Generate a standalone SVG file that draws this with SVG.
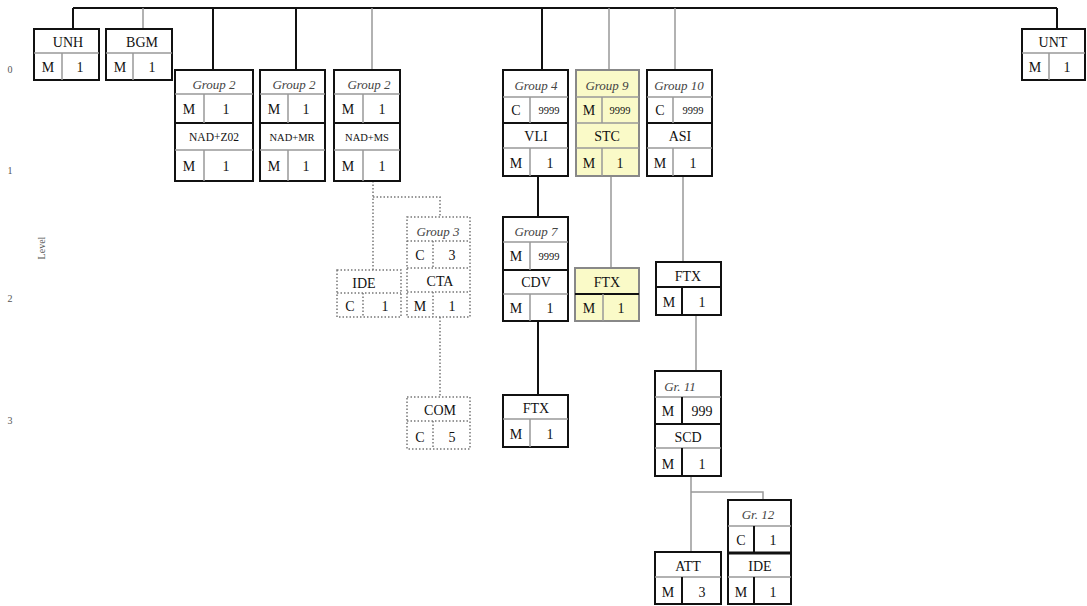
<svg xmlns="http://www.w3.org/2000/svg" width="1087" height="606" viewBox="0 0 1087 606">
<style>
.b{fill:#fff;stroke:#111;stroke-width:2}
.y{fill:#fafac8;stroke:#888;stroke-width:2}
.d{fill:#fff;stroke:#777;stroke-width:1.5;stroke-dasharray:1.5 2}
.g{stroke:#999;stroke-width:1.5}
.k{stroke:#111;stroke-width:2}
.dl{stroke:#777;stroke-width:1.5;stroke-dasharray:1.5 2;fill:none}
text{font-family:"Liberation Serif","Times New Roman",serif;font-size:14px;fill:#111;text-anchor:middle}
.i{font-style:italic;font-size:13px;fill:#444}
.s{font-size:11.5px}
.xs{font-size:10.5px}
.n{font-size:10.5px}
.lv{font-size:10px;fill:#555}
.c line{fill:none}
</style>
<g id="connectors" class="c">
<line x1="73" y1="8" x2="1057" y2="8" class="k"/>
<line x1="73" y1="8" x2="73" y2="29" class="k"/>
<line x1="143" y1="8" x2="143" y2="29" class="g"/>
<line x1="213" y1="8" x2="213" y2="70" class="k"/>
<line x1="296" y1="8" x2="296" y2="70" class="k"/>
<line x1="372" y1="8" x2="372" y2="70" class="g"/>
<line x1="542" y1="8" x2="542" y2="70" class="k"/>
<line x1="609" y1="8" x2="609" y2="70" class="g"/>
<line x1="675" y1="8" x2="675" y2="70" class="g"/>
<line x1="1057" y1="8" x2="1057" y2="29" class="k"/>
<polyline points="373,181 373,270" class="dl"/>
<polyline points="373,197 440,197 440,217" class="dl"/>
<polyline points="440,317 440,397" class="dl"/>
<line x1="538" y1="176" x2="538" y2="217" class="k"/>
<line x1="538" y1="321" x2="538" y2="395" class="k"/>
<line x1="611" y1="176" x2="611" y2="268" class="g"/>
<line x1="683" y1="176" x2="683" y2="262" class="g"/>
<line x1="696" y1="315" x2="696" y2="371" class="g"/>
<line x1="691" y1="476" x2="691" y2="552" class="g"/>
<polyline points="691,492 763,492 763,500" class="g" fill="none"/>
</g>
<g id="levels">
<text x="10" y="73" class="lv">0</text>
<text x="10" y="174" class="lv">1</text>
<text x="10" y="302" class="lv">2</text>
<text x="10" y="424" class="lv">3</text>
<text x="45" y="248" class="lv" transform="rotate(-90 45 248)">Level</text>
</g>
<g id="UNH">
<rect x="34" y="29" width="65" height="51" class="b"/>
<line x1="34" y1="53" x2="99" y2="53" class="g"/>
<line x1="62" y1="53" x2="62" y2="80" class="g"/>
<text x="68" y="47">UNH</text><text x="48" y="72">M</text><text x="80" y="72">1</text>
</g>
<g id="BGM">
<rect x="106" y="29" width="66" height="51" class="b"/>
<line x1="106" y1="53" x2="172" y2="53" class="g"/>
<line x1="133" y1="53" x2="133" y2="80" class="g"/>
<text x="142" y="47">BGM</text><text x="120" y="72">M</text><text x="152" y="72">1</text>
</g>
<g id="UNT">
<rect x="1022" y="29" width="63" height="51" class="b"/>
<line x1="1022" y1="53" x2="1085" y2="53" class="g"/>
<line x1="1049" y1="53" x2="1049" y2="80" class="g"/>
<text x="1053" y="47">UNT</text><text x="1035" y="72">M</text><text x="1067" y="72">1</text>
</g>
<g id="G2a">
<rect x="175" y="70" width="78" height="111" class="b"/>
<line x1="175" y1="94" x2="253" y2="94" class="g"/>
<line x1="175" y1="123" x2="253" y2="123" class="k"/>
<line x1="175" y1="150" x2="253" y2="150" class="g"/>
<line x1="204" y1="94" x2="204" y2="123" class="g"/>
<line x1="204" y1="150" x2="204" y2="181" class="g"/>
<text x="214" y="89" class="i">Group 2</text>
<text x="189" y="114">M</text><text x="226" y="114">1</text>
<text x="214" y="141" class="s">NAD+Z02</text>
<text x="189" y="171">M</text><text x="226" y="171">1</text>
</g>
<g id="G2b">
<rect x="260" y="70" width="65" height="111" class="b"/>
<line x1="260" y1="94" x2="325" y2="94" class="g"/>
<line x1="260" y1="123" x2="325" y2="123" class="k"/>
<line x1="260" y1="150" x2="325" y2="150" class="g"/>
<line x1="288" y1="94" x2="288" y2="123" class="g"/>
<line x1="288" y1="150" x2="288" y2="181" class="g"/>
<text x="294" y="89" class="i">Group 2</text>
<text x="274" y="114">M</text><text x="306" y="114">1</text>
<text x="292" y="141" class="n">NAD+MR</text>
<text x="274" y="171">M</text><text x="306" y="171">1</text>
</g>
<g id="G2c">
<rect x="334" y="70" width="66" height="111" class="b"/>
<line x1="334" y1="94" x2="400" y2="94" class="g"/>
<line x1="334" y1="123" x2="400" y2="123" class="k"/>
<line x1="334" y1="150" x2="400" y2="150" class="g"/>
<line x1="363" y1="94" x2="363" y2="123" class="g"/>
<line x1="363" y1="150" x2="363" y2="181" class="g"/>
<text x="369" y="89" class="i">Group 2</text>
<text x="348" y="114">M</text><text x="382" y="114">1</text>
<text x="367" y="141" class="n">NAD+MS</text>
<text x="348" y="171">M</text><text x="382" y="171">1</text>
</g>
<g id="IDE1">
<rect x="337" y="270" width="64" height="47" class="d"/>
<line x1="337" y1="293" x2="401" y2="293" class="dl"/>
<line x1="363" y1="293" x2="363" y2="317" class="dl"/>
<text x="364" y="288">IDE</text><text x="350" y="311">C</text><text x="385" y="311">1</text>
</g>
<g id="G3">
<rect x="407" y="217" width="63" height="100" class="d"/>
<line x1="407" y1="241" x2="470" y2="241" class="dl"/>
<line x1="407" y1="268" x2="470" y2="268" class="dl"/>
<line x1="407" y1="292" x2="470" y2="292" class="dl"/>
<line x1="433" y1="241" x2="433" y2="268" class="dl"/>
<line x1="433" y1="292" x2="433" y2="317" class="dl"/>
<text x="438" y="236" class="i">Group 3</text>
<text x="420" y="260">C</text><text x="452" y="260">3</text>
<text x="440" y="286">CTA</text>
<text x="420" y="311">M</text><text x="452" y="311">1</text>
</g>
<g id="COM">
<rect x="407" y="397" width="63" height="52" class="d"/>
<line x1="407" y1="421" x2="470" y2="421" class="dl"/>
<line x1="433" y1="421" x2="433" y2="449" class="dl"/>
<text x="440" y="415">COM</text><text x="420" y="442">C</text><text x="452" y="442">5</text>
</g>
<g id="G4">
<rect x="503" y="70" width="65" height="106" class="b"/>
<line x1="503" y1="97" x2="568" y2="97" class="g"/>
<line x1="503" y1="123" x2="568" y2="123" class="k"/>
<line x1="503" y1="148" x2="568" y2="148" class="g"/>
<line x1="530" y1="97" x2="530" y2="123" class="g"/>
<line x1="530" y1="148" x2="530" y2="176" class="g"/>
<text x="536" y="90" class="i">Group 4</text>
<text x="516" y="115">C</text><text x="549" y="114" class="xs">9999</text>
<text x="536" y="141">VLI</text>
<text x="516" y="168">M</text><text x="550" y="168">1</text>
</g>
<g id="G9">
<rect x="576" y="70" width="63" height="106" class="y"/>
<line x1="576" y1="97" x2="639" y2="97" class="g"/>
<line x1="576" y1="123" x2="639" y2="123" class="g"/>
<line x1="576" y1="148" x2="639" y2="148" class="g"/>
<line x1="602" y1="97" x2="602" y2="123" class="g"/>
<line x1="602" y1="148" x2="602" y2="176" class="g"/>
<text x="607" y="90" class="i">Group 9</text>
<text x="589" y="115">M</text><text x="620" y="114" class="xs">9999</text>
<text x="607" y="141">STC</text>
<text x="589" y="168">M</text><text x="620" y="168">1</text>
</g>
<g id="G10">
<rect x="647" y="70" width="65" height="106" class="b"/>
<line x1="647" y1="97" x2="712" y2="97" class="g"/>
<line x1="647" y1="123" x2="712" y2="123" class="k"/>
<line x1="647" y1="148" x2="712" y2="148" class="g"/>
<line x1="673" y1="97" x2="673" y2="123" class="g"/>
<line x1="673" y1="148" x2="673" y2="176" class="g"/>
<text x="679" y="90" class="i">Group 10</text>
<text x="660" y="115">C</text><text x="693" y="114" class="xs">9999</text>
<text x="680" y="141">ASI</text>
<text x="660" y="168">M</text><text x="693" y="168">1</text>
</g>
<g id="G7">
<rect x="503" y="217" width="65" height="104" class="b"/>
<line x1="503" y1="242" x2="568" y2="242" class="g"/>
<line x1="503" y1="270" x2="568" y2="270" class="k"/>
<line x1="503" y1="294" x2="568" y2="294" class="g"/>
<line x1="530" y1="242" x2="530" y2="270" class="g"/>
<line x1="530" y1="294" x2="530" y2="321" class="g"/>
<text x="536" y="236" class="i">Group 7</text>
<text x="516" y="261">M</text><text x="549" y="260" class="xs">9999</text>
<text x="536" y="287">CDV</text>
<text x="516" y="313">M</text><text x="550" y="313">1</text>
</g>
<g id="FTX1">
<rect x="575" y="268" width="64" height="53" class="y"/>
<line x1="575" y1="294" x2="639" y2="294" class="k"/>
<line x1="603" y1="294" x2="603" y2="321" class="g"/>
<text x="607" y="287">FTX</text><text x="589" y="313">M</text><text x="621" y="313">1</text>
</g>
<g id="FTX2">
<rect x="656" y="262" width="65" height="53" class="b"/>
<line x1="656" y1="287" x2="721" y2="287" class="k"/>
<line x1="682" y1="287" x2="682" y2="315" class="k"/>
<text x="688" y="281">FTX</text><text x="669" y="307">M</text><text x="702" y="307">1</text>
</g>
<g id="FTX3">
<rect x="503" y="395" width="65" height="52" class="b"/>
<line x1="503" y1="419" x2="568" y2="419" class="g"/>
<line x1="530" y1="419" x2="530" y2="447" class="g"/>
<text x="536" y="413">FTX</text><text x="516" y="439">M</text><text x="550" y="439">1</text>
</g>
<g id="G11">
<rect x="655" y="371" width="66" height="105" class="b"/>
<line x1="655" y1="397" x2="721" y2="397" class="g"/>
<line x1="655" y1="424" x2="721" y2="424" class="k"/>
<line x1="655" y1="448" x2="721" y2="448" class="g"/>
<line x1="682" y1="397" x2="682" y2="424" class="k"/>
<line x1="682" y1="448" x2="682" y2="476" class="k"/>
<text x="680" y="391" class="i">Gr. 11</text>
<text x="668" y="416">M</text><text x="702" y="416">999</text>
<text x="688" y="442">SCD</text>
<text x="668" y="469">M</text><text x="702" y="469">1</text>
</g>
<g id="ATT">
<rect x="655" y="552" width="66" height="52" class="b"/>
<line x1="655" y1="577" x2="721" y2="577" class="g"/>
<line x1="682" y1="577" x2="682" y2="604" class="k"/>
<text x="688" y="571">ATT</text><text x="668" y="597">M</text><text x="702" y="597">3</text>
</g>
<g id="G12">
<rect x="728" y="500" width="63" height="104" class="b"/>
<line x1="728" y1="526" x2="791" y2="526" class="g"/>
<line x1="728" y1="553" x2="791" y2="553" stroke="#111" stroke-width="3"/>
<line x1="728" y1="577" x2="791" y2="577" class="g"/>
<line x1="754" y1="526" x2="754" y2="553" class="k"/>
<line x1="754" y1="577" x2="754" y2="604" class="k"/>
<text x="758" y="519" class="i">Gr. 12</text>
<text x="741" y="545">C</text><text x="773" y="545">1</text>
<text x="760" y="571">IDE</text>
<text x="741" y="597">M</text><text x="773" y="597">1</text>
</g>
</svg>
